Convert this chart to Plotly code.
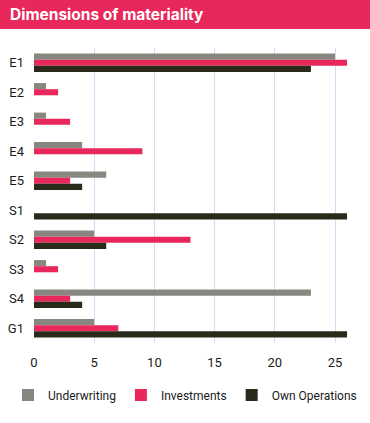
import plotly.graph_objects as go

categories = ["E1", "E2", "E3", "E4", "E5", "S1", "S2", "S3", "S4", "G1"]
underwriting = [25, 1, 1, 4, 6, 0, 5, 1, 23, 5]
investments = [26, 2, 3, 9, 3, 0, 13, 2, 3, 7]
own_operations = [23, 0, 0, 0, 4, 26, 6, 0, 4, 26]
x_ticks = [0, 5, 10, 15, 20, 25]

colors = {"Underwriting": "#878780", "Investments": "#e8285a", "Own Operations": "#2a2a1a"}

fig = go.Figure()
for name, vals in [("Underwriting", underwriting), ("Investments", investments), ("Own Operations", own_operations)]:
    fig.add_trace(go.Bar(y=categories, x=vals, name=name, orientation="h",
                         marker=dict(color=colors[name], line=dict(width=0))))

L, R, T, B = 34, 4, 48, 80
W, H = 370, 423
pw, ph = W - L - R, H - T - B
unit_px = 12.04

def px(xp):
    return (xp - L) / pw

def py(yp):
    return (H - B - yp) / ph

fig.update_layout(
    width=W, height=H,
    margin=dict(l=L, r=R, t=T, b=B, autoexpand=False),
    paper_bgcolor="white", plot_bgcolor="white",
    barmode="group", bargap=0.38, bargroupgap=0,
    font=dict(family="Roboto, Arial, sans-serif", size=13, color="#1a1a1a"),
    xaxis=dict(range=[0, pw / unit_px], tickvals=x_ticks, showgrid=True, gridcolor="#dcd8f4", gridwidth=1,
               zeroline=False, showline=False, ticks="", automargin=False, ticklabelstandoff=10,
               tickfont=dict(size=13, color="#1a1a1a")),
    yaxis=dict(autorange="reversed", showgrid=False, zeroline=False, showline=False, ticks="",
               automargin=False, ticklabelstandoff=9, tickfont=dict(size=13, color="#1a1a1a")),
    legend=dict(orientation="h", x=px(8), xanchor="left", y=py(395), yanchor="middle",
                font=dict(size=12, color="#1a1a1a"), itemwidth=30, traceorder="normal"),
    showlegend=True,
    shapes=[dict(type="rect", xref="paper", yref="paper", x0=px(-2), x1=px(W + 2), y0=py(29), y1=py(-2),
                 fillcolor="#e8285a", line=dict(width=0), layer="above")],
    annotations=[dict(text="<b>Dimensions of materiality</b>", xref="paper", yref="paper",
                      x=px(8), y=py(15), xanchor="left", yanchor="middle", showarrow=False,
                      font=dict(family="Inter, Roboto, sans-serif", size=15.5, color="white"))],
)

fig.write_html("out.html", config={"displayModeBar": False},
               post_script="document.body.style.margin='0';")
